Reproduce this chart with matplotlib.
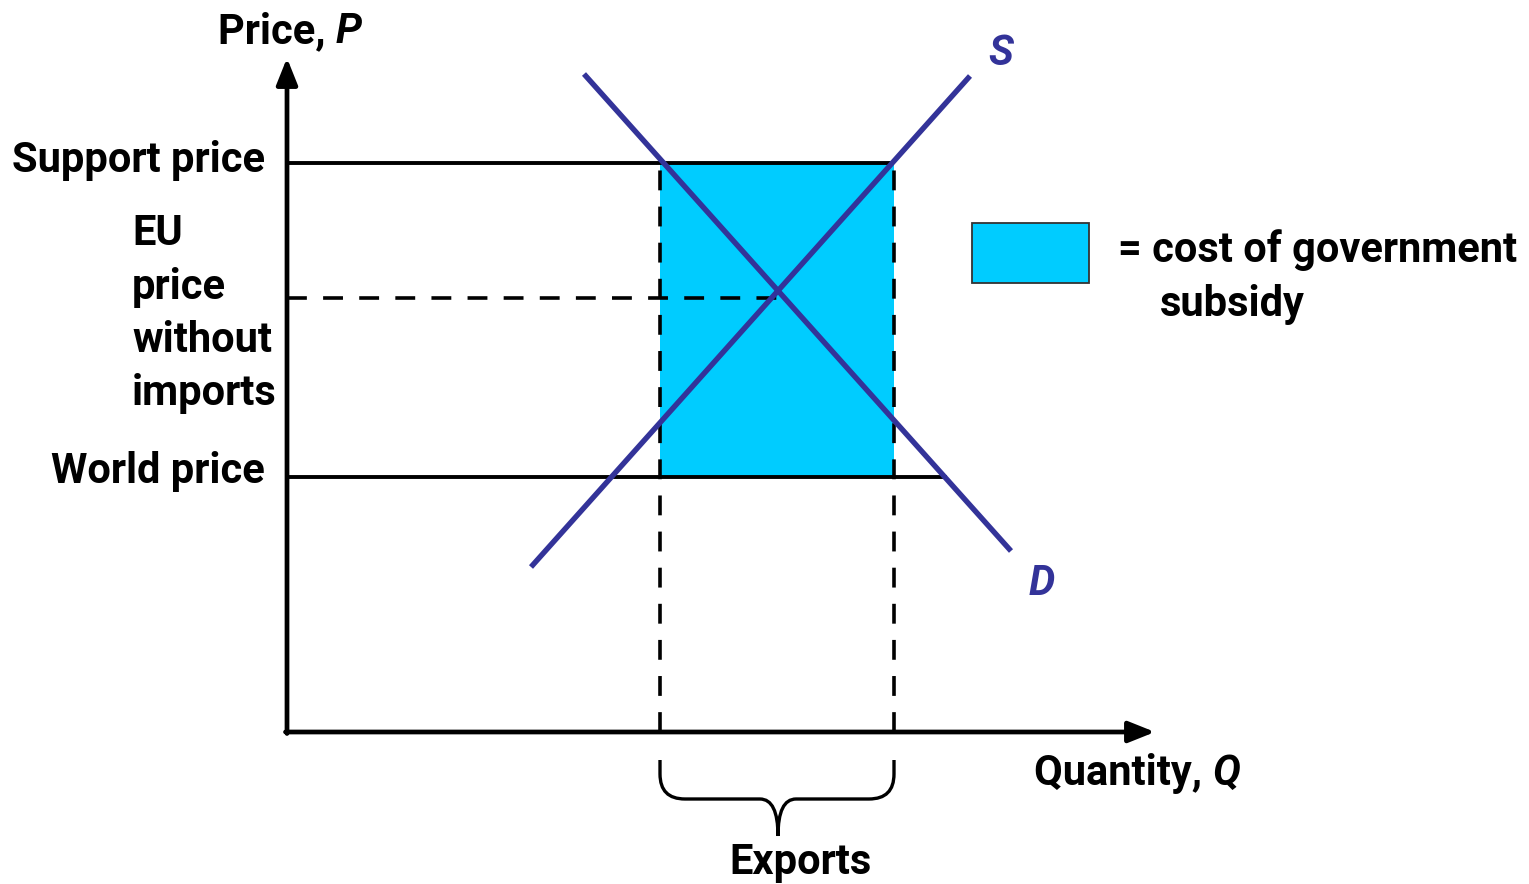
import numpy as np
import matplotlib.pyplot as plt
from matplotlib.patches import Rectangle, PathPatch
from matplotlib.path import Path

# prices (vertical units) and quantities (horizontal units)
support_price = 5.69
world_price = 2.55
eu_price = 4.34
export_q = [3.73, 6.07]          # quantity demanded / supplied at support price
demand_q = [2.97, 7.24]
demand_p = [6.58, 1.81]
supply_q = [2.44, 6.83]
supply_p = [1.65, 6.56]
q_max = 8.68
p_max = 6.72

price_labels = ["Support price", "EU\nprice\nwithout\nimports", "World price"]

blue = "#333399"
cyan = "#00CCFF"
fam = ["Roboto", "Liberation Sans", "DejaVu Sans"]
fs = 30


def demand_at(p):
    slope = (demand_p[1] - demand_p[0]) / (demand_q[1] - demand_q[0])
    return demand_q[0] + (p - demand_p[0]) / slope


def supply_at(p):
    slope = (supply_p[1] - supply_p[0]) / (supply_q[1] - supply_q[0])
    return supply_q[0] + (p - supply_p[0]) / slope


def label(x, y, first, second, **kw):
    # plain part followed by an italic symbol
    t = ax.text(x, y, first, fontsize=fs, fontweight="bold", family=fam, va="bottom", **kw)
    ax.annotate(second, xy=(1, 0), xycoords=t, fontsize=fs, fontweight="bold",
                fontstyle="italic", family=fam, va="bottom", ha="left")


fig = plt.figure(figsize=(15.29, 8.84), dpi=100)
ax = fig.add_axes([0, 0, 1, 1])
ax.set_xlim(-2.87, 15.29 - 2.87)
ax.set_ylim(-1.52, 7.32)
ax.axis("off")

# subsidy area
ax.add_patch(Rectangle((export_q[0], world_price), export_q[1] - export_q[0],
                       support_price - world_price, facecolor=cyan, edgecolor="none", zorder=1))

# price lines
ax.plot([0, supply_at(support_price)], [support_price, support_price], color="black", lw=2.8, zorder=3)
ax.plot([0, demand_at(world_price)], [world_price, world_price], color="black", lw=2.8, zorder=3)
eq_q = demand_at(eu_price)
ax.plot([0, eq_q], [eu_price, eu_price], color="black", lw=2.6, dashes=(5.5, 4.5), zorder=3)
for q in export_q:
    ax.plot([q, q], [0, support_price], color="black", lw=2.6, dashes=(5.5, 4.5), zorder=3)

# supply and demand
ax.plot(demand_q, demand_p, color=blue, lw=3.9, solid_capstyle="butt", zorder=4)
ax.plot(supply_q, supply_p, color=blue, lw=3.9, solid_capstyle="butt", zorder=4)
ax.text(7.14, 6.67, "S", color=blue, fontsize=fs, fontweight="bold",
        fontstyle="italic", family=fam, va="baseline", ha="center")
ax.text(7.55, 1.37, "D", color=blue, fontsize=fs, fontweight="bold",
        fontstyle="italic", family=fam, va="baseline", ha="center")

# axes with arrows
arrow = dict(arrowstyle="-|>,head_length=0.8,head_width=0.32", color="black", lw=3.4,
             mutation_scale=20, shrinkA=0, shrinkB=0)
ax.annotate("", xy=(0, p_max + 0.02), xytext=(0, -0.015), arrowprops=arrow, zorder=5)
ax.annotate("", xy=(q_max, 0), xytext=(-0.015, 0), arrowprops=arrow, zorder=5)

label(-0.69, 6.80, "Price, ", "P")
label(7.47, -0.62, "Quantity, ", "Q")

# price labels
ax.text(-0.22, support_price - 0.09, price_labels[0], fontsize=fs, fontweight="bold", family=fam,
        ha="right", va="baseline")
ax.text(-0.22, world_price - 0.06, price_labels[2], fontsize=fs, fontweight="bold", family=fam,
        ha="right", va="baseline")
for i, line in enumerate(price_labels[1].split("\n")):
    ax.text(-1.55, 4.87 - 0.535 * i, line, fontsize=fs, fontweight="bold", family=fam,
            ha="left", va="baseline")

# legend
ax.add_patch(Rectangle((6.85, 4.49), 1.17, 0.60, facecolor=cyan, edgecolor="#333333", lw=1.3, zorder=2))
ax.text(8.31, 4.70, "= cost of government", fontsize=fs, fontweight="bold", family=fam, va="baseline")
ax.text(8.73, 4.16, "subsidy", fontsize=fs, fontweight="bold", family=fam, va="baseline")

# brace under exports
ql, qr = export_q
qm = 4.91
top, arm, mid, tip = -0.28, -0.42, -0.67, -1.04
verts = [(ql, top), (ql, arm), (ql, mid), (ql + 0.25, mid), (qm - 0.18, mid), (qm, mid), (qm, tip),
         (qm, mid), (qm + 0.18, mid), (qr - 0.25, mid), (qr, mid), (qr, arm), (qr, top)]
codes = [Path.MOVETO, Path.LINETO, Path.CURVE3, Path.CURVE3, Path.LINETO, Path.CURVE3, Path.CURVE3,
         Path.CURVE3, Path.CURVE3, Path.LINETO, Path.CURVE3, Path.CURVE3, Path.LINETO]
ax.add_patch(PathPatch(Path(verts, codes), facecolor="none", edgecolor="black", lw=2.4))
ax.text(5.14, -1.42, "Exports", fontsize=fs, fontweight="bold", family=fam, ha="center", va="baseline")

fig.savefig("out.png", dpi=100)
